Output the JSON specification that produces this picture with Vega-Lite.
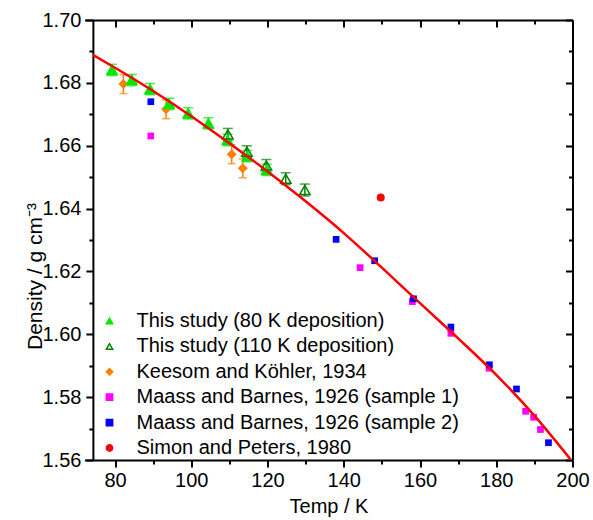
{
  "$schema": "https://vega.github.io/schema/vega-lite/v6.json",
  "width": 488,
  "height": 440,
  "autosize": {"type": "none"},
  "padding": {"left": 84.5, "top": 20, "right": 20, "bottom": 60},
  "background": "white",
  "config": {
    "view": {"stroke": null},
    "font": "Liberation Sans",
    "axis": {
      "grid": false,
      "domainColor": "black",
      "domainWidth": 2,
      "tickColor": "black",
      "tickWidth": 2,
      "labelColor": "black",
      "titleColor": "black",
      "labelFont": "Liberation Sans",
      "titleFont": "Liberation Sans",
      "labelFontSize": 20,
      "titleFontSize": 20,
      "titleFontWeight": "normal",
      "labelOverlap": false,
      "labelFlush": false
    }
  },
  "datasets": {
    "pts": [
      {"series": "This study (80 K deposition)", "T": 79.2, "D": 1.6841, "lo": 1.6823, "hi": 1.6859},
      {"series": "This study (80 K deposition)", "T": 84.4, "D": 1.6809, "lo": 1.6791, "hi": 1.6827},
      {"series": "This study (80 K deposition)", "T": 89.2, "D": 1.6780, "lo": 1.6762, "hi": 1.6798},
      {"series": "This study (80 K deposition)", "T": 94.2, "D": 1.6733, "lo": 1.6715, "hi": 1.6751},
      {"series": "This study (80 K deposition)", "T": 99.2, "D": 1.6703, "lo": 1.6685, "hi": 1.6721},
      {"series": "This study (80 K deposition)", "T": 104.5, "D": 1.6671, "lo": 1.6653, "hi": 1.6689},
      {"series": "This study (80 K deposition)", "T": 109.5, "D": 1.6618, "lo": 1.6600, "hi": 1.6636},
      {"series": "This study (80 K deposition)", "T": 114.7, "D": 1.6567, "lo": 1.6549, "hi": 1.6585},
      {"series": "This study (80 K deposition)", "T": 119.8, "D": 1.6523, "lo": 1.6505, "hi": 1.6541},
      {"series": "This study (110 K deposition)", "T": 109.6, "D": 1.6636, "lo": 1.6617, "hi": 1.6655},
      {"series": "This study (110 K deposition)", "T": 114.6, "D": 1.6581, "lo": 1.6562, "hi": 1.6600},
      {"series": "This study (110 K deposition)", "T": 119.7, "D": 1.6537, "lo": 1.6518, "hi": 1.6556},
      {"series": "This study (110 K deposition)", "T": 124.8, "D": 1.6495, "lo": 1.6476, "hi": 1.6514},
      {"series": "This study (110 K deposition)", "T": 129.8, "D": 1.6459, "lo": 1.6440, "hi": 1.6478},
      {"series": "Keesom and Köhler, 1934", "T": 82.2, "D": 1.6796, "lo": 1.6766, "hi": 1.6826},
      {"series": "Keesom and Köhler, 1934", "T": 93.4, "D": 1.6716, "lo": 1.6686, "hi": 1.6746},
      {"series": "Keesom and Köhler, 1934", "T": 110.6, "D": 1.6573, "lo": 1.6543, "hi": 1.6603},
      {"series": "Keesom and Köhler, 1934", "T": 113.5, "D": 1.6528, "lo": 1.6498, "hi": 1.6558},
      {"series": "Maass and Barnes, 1926 (sample 1)", "T": 89.4, "D": 1.6631},
      {"series": "Maass and Barnes, 1926 (sample 1)", "T": 144.3, "D": 1.6212},
      {"series": "Maass and Barnes, 1926 (sample 1)", "T": 158.0, "D": 1.6104},
      {"series": "Maass and Barnes, 1926 (sample 1)", "T": 168.1, "D": 1.6003},
      {"series": "Maass and Barnes, 1926 (sample 1)", "T": 178.1, "D": 1.5892},
      {"series": "Maass and Barnes, 1926 (sample 1)", "T": 187.7, "D": 1.5755},
      {"series": "Maass and Barnes, 1926 (sample 1)", "T": 189.8, "D": 1.5736},
      {"series": "Maass and Barnes, 1926 (sample 1)", "T": 191.6, "D": 1.5697},
      {"series": "Maass and Barnes, 1926 (sample 2)", "T": 89.4, "D": 1.6740},
      {"series": "Maass and Barnes, 1926 (sample 2)", "T": 138.0, "D": 1.6302},
      {"series": "Maass and Barnes, 1926 (sample 2)", "T": 148.1, "D": 1.6234},
      {"series": "Maass and Barnes, 1926 (sample 2)", "T": 158.3, "D": 1.6113},
      {"series": "Maass and Barnes, 1926 (sample 2)", "T": 168.1, "D": 1.6023},
      {"series": "Maass and Barnes, 1926 (sample 2)", "T": 178.2, "D": 1.5903},
      {"series": "Maass and Barnes, 1926 (sample 2)", "T": 185.3, "D": 1.5826},
      {"series": "Maass and Barnes, 1926 (sample 2)", "T": 193.7, "D": 1.5655},
      {"series": "Simon and Peters, 1980", "T": 149.7, "D": 1.6435}
    ],
    "fit": [
      {"T": 74.2, "D": 1.6889},
      {"T": 80, "D": 1.6848},
      {"T": 90, "D": 1.6774},
      {"T": 100, "D": 1.6694},
      {"T": 110, "D": 1.6608},
      {"T": 120, "D": 1.6518},
      {"T": 130, "D": 1.6423},
      {"T": 140, "D": 1.6322},
      {"T": 150, "D": 1.6212},
      {"T": 160, "D": 1.6099},
      {"T": 170, "D": 1.5987},
      {"T": 180, "D": 1.5871},
      {"T": 190, "D": 1.5741},
      {"T": 199.6, "D": 1.5600}
    ]
  },
  "layer": [
    {
      "data": {"name": "pts"},
      "transform": [{"filter": {"field": "series", "equal": "Keesom and Köhler, 1934"}}],
      "mark": {"type": "rule", "color": "#ff8000", "strokeWidth": 1.5},
      "encoding": {
        "x": {"field": "T", "type": "quantitative", "scale": {"domain": [72, 200], "nice": false, "zero": false}, "axis": null},
        "y": {"field": "lo", "type": "quantitative", "scale": {"domain": [1.56, 1.70], "nice": false, "zero": false}, "axis": null},
        "y2": {"field": "hi"}
      }
    },
    {
      "data": {"name": "pts"},
      "transform": [{"filter": {"field": "series", "equal": "Keesom and Köhler, 1934"}}],
      "mark": {"type": "tick", "orient": "horizontal", "color": "#ff8000", "size": 8, "thickness": 1.5},
      "encoding": {
        "x": {"field": "T", "type": "quantitative", "scale": {"domain": [72, 200], "nice": false, "zero": false}, "axis": null},
        "y": {"field": "lo", "type": "quantitative", "scale": {"domain": [1.56, 1.70], "nice": false, "zero": false}, "axis": null}
      }
    },
    {
      "data": {"name": "pts"},
      "transform": [{"filter": {"field": "series", "equal": "Keesom and Köhler, 1934"}}],
      "mark": {"type": "tick", "orient": "horizontal", "color": "#ff8000", "size": 8, "thickness": 1.5},
      "encoding": {
        "x": {"field": "T", "type": "quantitative", "scale": {"domain": [72, 200], "nice": false, "zero": false}, "axis": null},
        "y": {"field": "hi", "type": "quantitative", "scale": {"domain": [1.56, 1.70], "nice": false, "zero": false}, "axis": null}
      }
    },
    {
      "data": {"name": "pts"},
      "transform": [{"filter": {"field": "series", "equal": "This study (80 K deposition)"}}],
      "mark": {"type": "rule", "color": "#00e800", "strokeWidth": 1.5},
      "encoding": {
        "x": {"field": "T", "type": "quantitative", "scale": {"domain": [72, 200], "nice": false, "zero": false}, "axis": null},
        "y": {"field": "lo", "type": "quantitative", "scale": {"domain": [1.56, 1.70], "nice": false, "zero": false}, "axis": null},
        "y2": {"field": "hi"}
      }
    },
    {
      "data": {"name": "pts"},
      "transform": [{"filter": {"field": "series", "equal": "This study (80 K deposition)"}}],
      "mark": {"type": "tick", "orient": "horizontal", "color": "#00e800", "size": 10, "thickness": 1.5},
      "encoding": {
        "x": {"field": "T", "type": "quantitative", "scale": {"domain": [72, 200], "nice": false, "zero": false}, "axis": null},
        "y": {"field": "lo", "type": "quantitative", "scale": {"domain": [1.56, 1.70], "nice": false, "zero": false}, "axis": null}
      }
    },
    {
      "data": {"name": "pts"},
      "transform": [{"filter": {"field": "series", "equal": "This study (80 K deposition)"}}],
      "mark": {"type": "tick", "orient": "horizontal", "color": "#00e800", "size": 10, "thickness": 1.5},
      "encoding": {
        "x": {"field": "T", "type": "quantitative", "scale": {"domain": [72, 200], "nice": false, "zero": false}, "axis": null},
        "y": {"field": "hi", "type": "quantitative", "scale": {"domain": [1.56, 1.70], "nice": false, "zero": false}, "axis": null}
      }
    },
    {
      "data": {"name": "pts"},
      "transform": [{"filter": {"field": "series", "equal": "This study (110 K deposition)"}}],
      "mark": {"type": "rule", "color": "#008000", "strokeWidth": 1.5},
      "encoding": {
        "x": {"field": "T", "type": "quantitative", "scale": {"domain": [72, 200], "nice": false, "zero": false}, "axis": null},
        "y": {"field": "lo", "type": "quantitative", "scale": {"domain": [1.56, 1.70], "nice": false, "zero": false}, "axis": null},
        "y2": {"field": "hi"}
      }
    },
    {
      "data": {"name": "pts"},
      "transform": [{"filter": {"field": "series", "equal": "This study (110 K deposition)"}}],
      "mark": {"type": "tick", "orient": "horizontal", "color": "#008000", "size": 10, "thickness": 1.5},
      "encoding": {
        "x": {"field": "T", "type": "quantitative", "scale": {"domain": [72, 200], "nice": false, "zero": false}, "axis": null},
        "y": {"field": "lo", "type": "quantitative", "scale": {"domain": [1.56, 1.70], "nice": false, "zero": false}, "axis": null}
      }
    },
    {
      "data": {"name": "pts"},
      "transform": [{"filter": {"field": "series", "equal": "This study (110 K deposition)"}}],
      "mark": {"type": "tick", "orient": "horizontal", "color": "#008000", "size": 10, "thickness": 1.5},
      "encoding": {
        "x": {"field": "T", "type": "quantitative", "scale": {"domain": [72, 200], "nice": false, "zero": false}, "axis": null},
        "y": {"field": "hi", "type": "quantitative", "scale": {"domain": [1.56, 1.70], "nice": false, "zero": false}, "axis": null}
      }
    },
    {
      "data": {"name": "pts"},
      "transform": [{"filter": {"field": "series", "oneOf": ["Maass and Barnes, 1926 (sample 1)", "Maass and Barnes, 1926 (sample 2)"]}}],
      "mark": {"type": "point", "size": 45, "strokeWidth": 0, "opacity": 1},
      "encoding": {
        "x": {"field": "T", "type": "quantitative", "scale": {"domain": [72, 200], "nice": false, "zero": false}, "axis": null},
        "y": {"field": "D", "type": "quantitative", "scale": {"domain": [1.56, 1.70], "nice": false, "zero": false}, "axis": null},
        "shape": {"field": "series", "type": "nominal", "scale": {"domain": ["This study (80 K deposition)", "This study (110 K deposition)", "Keesom and Köhler, 1934", "Maass and Barnes, 1926 (sample 1)", "Maass and Barnes, 1926 (sample 2)", "Simon and Peters, 1980"], "range": ["triangle-up", "triangle-up", "diamond", "square", "square", "circle"]},
          "legend": {"orient": "none", "legendX": 15, "legendY": 291, "title": null, "labelFontSize": 20, "labelFont": "Liberation Sans", "labelColor": "black", "labelLimit": 0, "symbolSize": 40, "symbolStrokeWidth": 1.5, "rowPadding": 5.4, "labelOffset": 17, "padding": 0}},
        "fill": {"field": "series", "type": "nominal", "scale": {"domain": ["This study (80 K deposition)", "This study (110 K deposition)", "Keesom and Köhler, 1934", "Maass and Barnes, 1926 (sample 1)", "Maass and Barnes, 1926 (sample 2)", "Simon and Peters, 1980"], "range": ["#00e800", "transparent", "#ff8000", "#ff00ff", "#0000ff", "#ff0000"]}},
        "stroke": {"field": "series", "type": "nominal", "scale": {"domain": ["This study (80 K deposition)", "This study (110 K deposition)", "Keesom and Köhler, 1934", "Maass and Barnes, 1926 (sample 1)", "Maass and Barnes, 1926 (sample 2)", "Simon and Peters, 1980"], "range": ["#00e800", "#008000", "#ff8000", "#ff00ff", "#0000ff", "#ff0000"]}}
      }
    },
    {
      "data": {"name": "pts"},
      "transform": [{"filter": {"field": "series", "equal": "Simon and Peters, 1980"}}],
      "mark": {"type": "point", "size": 64, "strokeWidth": 0, "opacity": 1},
      "encoding": {
        "x": {"field": "T", "type": "quantitative", "scale": {"domain": [72, 200], "nice": false, "zero": false}, "axis": null},
        "y": {"field": "D", "type": "quantitative", "scale": {"domain": [1.56, 1.70], "nice": false, "zero": false}, "axis": null},
        "shape": {"field": "series", "type": "nominal"},
        "fill": {"field": "series", "type": "nominal"},
        "stroke": {"field": "series", "type": "nominal"}
      }
    },
    {
      "data": {"name": "pts"},
      "transform": [{"filter": {"field": "series", "equal": "Keesom and Köhler, 1934"}}],
      "mark": {"type": "point", "size": 100, "strokeWidth": 0, "opacity": 1},
      "encoding": {
        "x": {"field": "T", "type": "quantitative", "scale": {"domain": [72, 200], "nice": false, "zero": false}, "axis": null},
        "y": {"field": "D", "type": "quantitative", "scale": {"domain": [1.56, 1.70], "nice": false, "zero": false}, "axis": null},
        "shape": {"field": "series", "type": "nominal"},
        "fill": {"field": "series", "type": "nominal"},
        "stroke": {"field": "series", "type": "nominal"}
      }
    },
    {
      "data": {"name": "pts"},
      "transform": [{"filter": {"field": "series", "oneOf": ["This study (80 K deposition)", "This study (110 K deposition)"]}}],
      "mark": {"type": "point", "size": 110, "strokeWidth": 1.5, "opacity": 1},
      "encoding": {
        "x": {"field": "T", "type": "quantitative", "scale": {"domain": [72, 200], "nice": false, "zero": false}, "axis": null},
        "y": {"field": "D", "type": "quantitative", "scale": {"domain": [1.56, 1.70], "nice": false, "zero": false}, "axis": null},
        "shape": {"field": "series", "type": "nominal"},
        "fill": {"field": "series", "type": "nominal"},
        "stroke": {"field": "series", "type": "nominal"}
      }
    },
    {
      "data": {"name": "fit"},
      "mark": {"type": "line", "color": "#ff0000", "strokeWidth": 2.5, "interpolate": "monotone", "clip": true},
      "encoding": {
        "x": {"field": "T", "type": "quantitative", "scale": {"domain": [72, 200], "nice": false, "zero": false}, "axis": null},
        "y": {"field": "D", "type": "quantitative", "scale": {"domain": [1.56, 1.70], "nice": false, "zero": false}, "axis": null}
      }
    },
    {
      "data": {"name": "fit"},
      "mark": {"type": "point", "opacity": 0},
      "encoding": {
        "x": {"field": "T", "type": "quantitative", "scale": {"domain": [72, 200], "nice": false, "zero": false},
          "axis": {"orient": "bottom", "title": "Temp / K", "values": [80, 90, 100, 110, 120, 130, 140, 150, 160, 170, 180, 190, 200],
            "labelExpr": "datum.value % 20 == 0 ? datum.label : ''",
            "tickSize": {"condition": {"test": "datum.value % 20 == 0", "value": 7}, "value": 4},
            "labelPadding": 3, "titlePadding": 6}},
        "y": {"field": "D", "type": "quantitative", "scale": {"domain": [1.56, 1.70], "nice": false, "zero": false},
          "axis": {"orient": "left", "title": "Density / g cm⁻³", "offset": -8.4, "titleFontSize": 21,
            "values": [1.56, 1.57, 1.58, 1.59, 1.6, 1.61, 1.62, 1.63, 1.64, 1.65, 1.66, 1.67, 1.68, 1.69, 1.7],
            "labelExpr": "round(datum.value * 100) % 2 == 0 ? format(datum.value, '.2f') : ''",
            "tickSize": {"condition": {"test": "round(datum.value * 100) % 2 == 0", "value": 7}, "value": 4},
            "labelPadding": 5, "titleX": -57.9, "titleY": 256, "titleAngle": -90, "titleAlign": "center", "titleBaseline": "middle"}}
      }
    },
    {
      "data": {"name": "fit"},
      "mark": {"type": "point", "opacity": 0},
      "encoding": {
        "x": {"field": "T", "type": "quantitative", "scale": {"domain": [72, 200], "nice": false, "zero": false},
          "axis": {"orient": "top", "title": null, "labels": false, "values": [80, 90, 100, 110, 120, 130, 140, 150, 160, 170, 180, 190, 200],
            "tickSize": {"condition": {"test": "datum.value % 20 == 0", "value": -7}, "value": -4}}},
        "y": {"field": "D", "type": "quantitative", "scale": {"domain": [1.56, 1.70], "nice": false, "zero": false},
          "axis": {"orient": "right", "title": null, "labels": false,
            "values": [1.56, 1.57, 1.58, 1.59, 1.6, 1.61, 1.62, 1.63, 1.64, 1.65, 1.66, 1.67, 1.68, 1.69, 1.7],
            "tickSize": {"condition": {"test": "round(datum.value * 100) % 2 == 0", "value": -7}, "value": -4}}}
      }
    }
  ],
  "resolve": {"axis": {"x": "independent", "y": "independent"}}
}
